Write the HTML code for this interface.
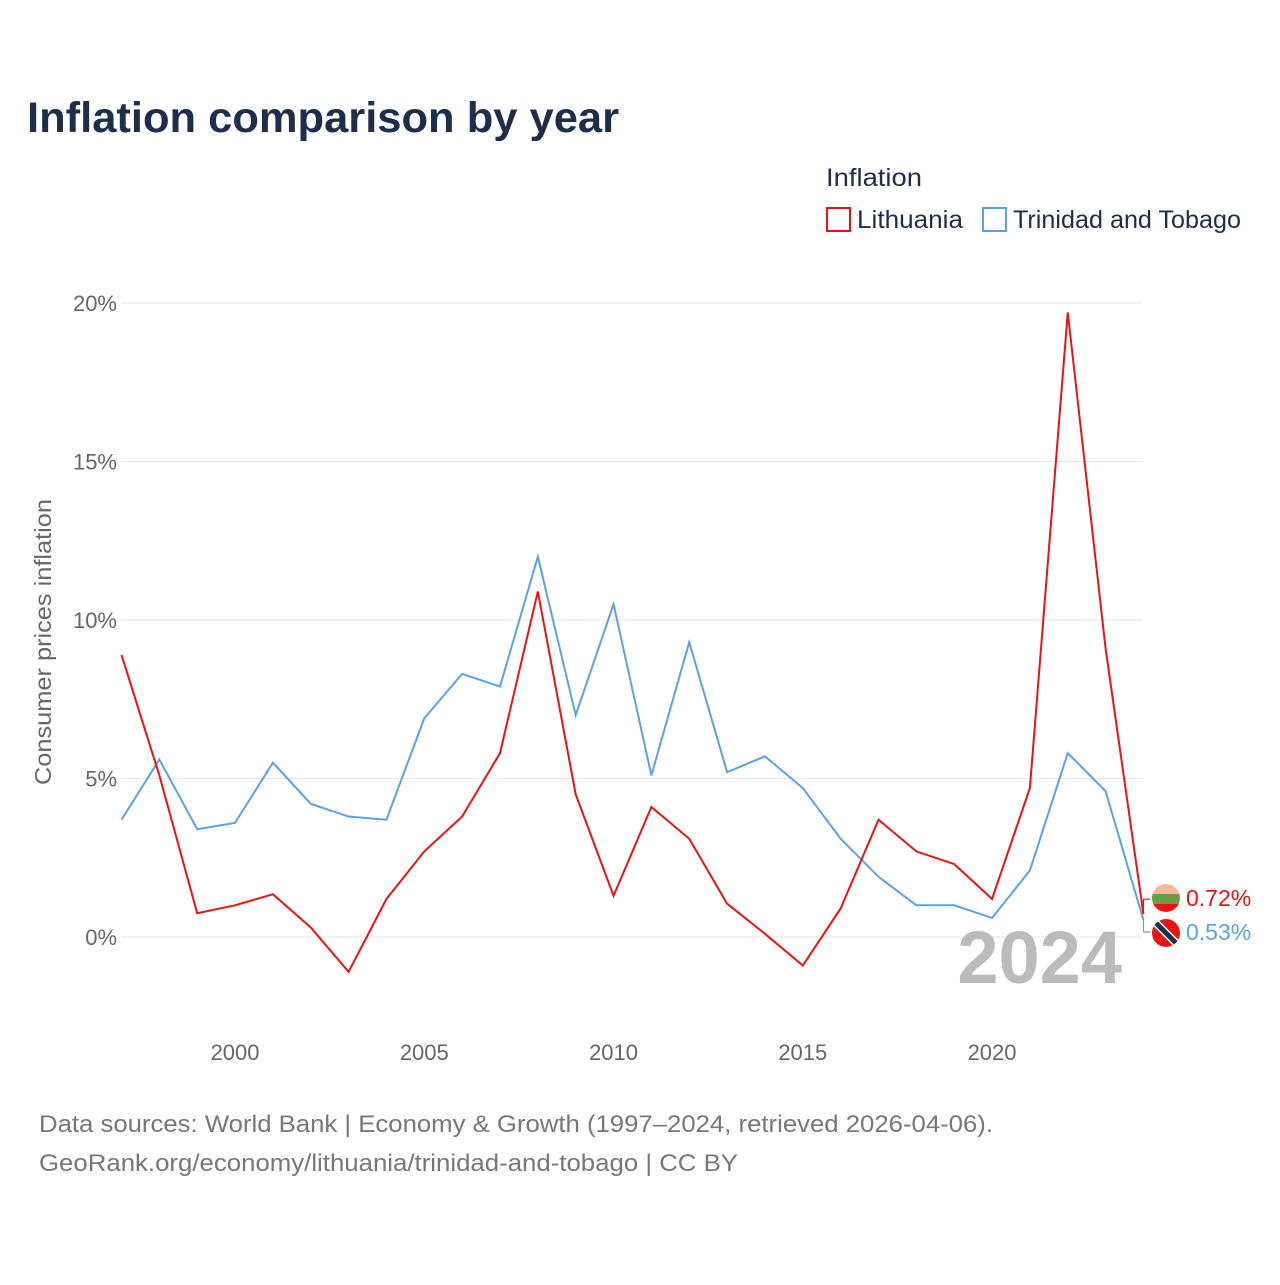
<!DOCTYPE html>
<html><head><meta charset="utf-8"><style>
body{margin:0;background:#fff;font-family:"Liberation Sans",sans-serif;}
</style></head><body>
<svg id="c" width="1280" height="1280" xmlns="http://www.w3.org/2000/svg">
<text x="27" y="132" font-size="43" font-weight="bold" fill="#1c2e4a" textLength="592" lengthAdjust="spacingAndGlyphs">Inflation comparison by year</text>
<text x="826" y="186" font-size="25" fill="#1c2e4a" textLength="96" lengthAdjust="spacingAndGlyphs">Inflation</text>
<g><rect x="827" y="208" width="23" height="23" fill="none" stroke="#ee1111" stroke-width="2"/><text x="857" y="228" font-size="25" fill="#1c2e4a" textLength="106" lengthAdjust="spacingAndGlyphs">Lithuania</text></g>
<g><rect x="983" y="208" width="23" height="23" fill="none" stroke="#5aa2e6" stroke-width="2"/><text x="1013" y="228" font-size="25" fill="#1c2e4a" textLength="228" lengthAdjust="spacingAndGlyphs">Trinidad and Tobago</text></g>
<g id="grid"></g><g id="xt"></g><g id="lines"></g>
<text transform="translate(51,642) rotate(-90)" text-anchor="middle" font-size="23" fill="#666" textLength="286" lengthAdjust="spacingAndGlyphs">Consumer prices inflation</text>
<text x="1122" y="983" text-anchor="end" font-size="74" font-weight="bold" fill="#bbb">2024</text>
<text x="39" y="1132" font-size="24" fill="#777" textLength="954" lengthAdjust="spacingAndGlyphs">Data sources: World Bank | Economy &amp; Growth (1997–2024, retrieved 2026-04-06).</text>
<text x="39" y="1171" font-size="24" fill="#777" textLength="699" lengthAdjust="spacingAndGlyphs">GeoRank.org/economy/lithuania/trinidad-and-tobago | CC BY</text>
</svg>
<script>
const years=[1997,1998,1999,2000,2001,2002,2003,2004,2005,2006,2007,2008,2009,2010,2011,2012,2013,2014,2015,2016,2017,2018,2019,2020,2021,2022,2023,2024];
const lithuania=[8.9,5.1,0.75,1.0,1.35,0.3,-1.1,1.2,2.7,3.8,5.8,10.9,4.5,1.3,4.1,3.1,1.05,0.1,-0.9,0.9,3.7,2.7,2.3,1.2,4.7,19.7,9.1,0.72];
const trinidad=[3.7,5.6,3.4,3.6,5.5,4.2,3.8,3.7,6.9,8.3,7.9,12.0,7.0,10.5,5.1,9.3,5.2,5.7,4.7,3.1,1.9,1.0,1.0,0.6,2.1,5.8,4.6,0.53];
const yTicks=[0,5,10,15,20];
const xTicks=[2000,2005,2010,2015,2020];
const X=y=>121.5+(y-1997)*37.85, Y=v=>937-v*31.7;
const ns="http://www.w3.org/2000/svg";
function mk(t,a,p){const e=document.createElementNS(ns,t);for(const k in a)e.setAttribute(k,a[k]);p.appendChild(e);return e;}
const g=document.getElementById('grid');
yTicks.forEach(t=>{const l=mk('line',{x1:121,x2:1142,y1:Y(t),y2:Y(t),stroke:'#e6e6e6','stroke-width':1},g);


const tx=mk('text',{x:117,y:Y(t)+8,'text-anchor':'end','font-size':22,fill:'#666'},g);tx.textContent=t+'%';

});
const xt=document.getElementById('xt');
xTicks.forEach(t=>{const tx=mk('text',{x:X(t),y:1060,'text-anchor':'middle','font-size':22,fill:'#666'},xt);tx.textContent=t;

});
const L=document.getElementById('lines');
function series(d,c,n){const p=mk('path',{d:d.map((v,i)=>(i?'L':'M')+X(years[i])+','+Y(v)).join(''),fill:'none',stroke:c,'stroke-width':2},L);

}
series(trinidad,'#5aa2e6','line-trinidad');
series(lithuania,'#ee1111','line-lithuania');
const lx=X(2024);
const ly=Y(lithuania[27]), ty=Y(trinidad[27]);
mk('path',{d:`M${lx},${ly}V${ly-15}H1150`,fill:'none',stroke:'#ee1111','stroke-width':1.2},L);
mk('path',{d:`M${lx},${ty}V932H1150`,fill:'none',stroke:'#5aa2e6','stroke-width':1.2},L);
const f1=mk('g',{},L);
mk('clipPath',{id:'c1'},f1);mk('circle',{cx:1166,cy:898,r:14},document.getElementById('c1'));
mk('rect',{x:1152,y:884,width:28,height:10,fill:'#f8b8a0','clip-path':'url(#c1)'},f1);
mk('rect',{x:1152,y:894,width:28,height:10,fill:'#6a9f48','clip-path':'url(#c1)'},f1);
mk('rect',{x:1152,y:904,width:28,height:10,fill:'#ee1111','clip-path':'url(#c1)'},f1);
const f2=mk('g',{},L);
mk('clipPath',{id:'c2'},f2);mk('circle',{cx:1166,cy:933,r:14},document.getElementById('c2'));
mk('circle',{cx:1166,cy:933,r:14,fill:'#ee1111'},f2);
mk('line',{x1:1154,y1:921,x2:1178,y2:945,stroke:'#fff','stroke-width':8,'clip-path':'url(#c2)'},f2);
mk('line',{x1:1154,y1:921,x2:1178,y2:945,stroke:'#1c2e4a','stroke-width':5,'clip-path':'url(#c2)'},f2);
const v1=mk('text',{x:1186,y:906,'font-size':23,fill:'#ee1111'},L);v1.textContent=lithuania[27].toFixed(2)+'%';


const v2=mk('text',{x:1186,y:940,'font-size':23,fill:'#5aa2e6'},L);v2.textContent=trinidad[27].toFixed(2)+'%';


</script>
</body></html>
